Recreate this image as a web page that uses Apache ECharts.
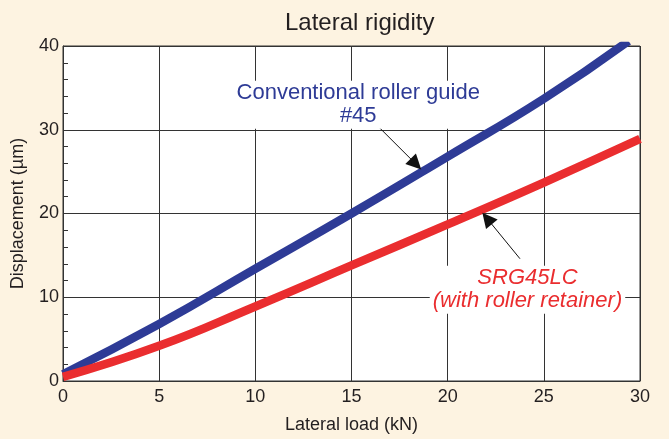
<!DOCTYPE html>
<html>
<head>
<meta charset="utf-8">
<script src="https://cdn.jsdelivr.net/npm/echarts@6/dist/echarts.min.js"></script>
<style>
html,body{margin:0;padding:0;background:#FDF3E1;}
#c{width:669px;height:439px;}
</style>
</head>
<body>
<div id="c"></div>
<script>
// Lateral load (kN) vs displacement (µm)
const conventionalX = [0, 5, 10, 15, 20, 25, 29.4];
const conventionalY = [0.8, 6.8, 13.4, 20.0, 26.8, 33.7, 40.6];
const srgX = [0, 5, 10, 15, 20, 25, 30];
const srgY = [0.5, 4.2, 8.9, 13.8, 18.7, 23.7, 28.9];
const xTicks = [0, 5, 10, 15, 20, 25, 30];
const yTicks = [0, 10, 20, 30, 40];
const titleText = 'Lateral rigidity';
const xName = 'Lateral load (kN)';
const yName = 'Displacement (\u00b5m)';
const convLabel = 'Conventional roller guide\n#45';
const srgLabel = 'SRG45LC\n(with roller retainer)';
const convLabelAt = [15.35, 33.0];
const srgLabelAt = [24.15, 10.9];
const convArrow = [[16.43, 30.3], [18.35, 25.9]];
const srgArrow = [[23.76, 14.6], [22.05, 19.4]];

const FONT = "'Liberation Sans', Arial, Helvetica, sans-serif";
const BLUE = '#2E3B96';
const RED = '#EA2D2F';
const INK = '#231F20';

function pairs(xs, ys){ return xs.map((x,i)=>[x, ys[i]]); }
function arrowLine(a){
  return {
    silent:true, animation:false, symbol:['none','triangle'], symbolSize:15,
    lineStyle:{color:'#111', width:1, type:'solid'}, itemStyle:{color:'#111'},
    label:{show:false}, emphasis:{disabled:true},
    data:[[{coord:a[0]}, {coord:a[1]}]]
  };
}

const chart = echarts.init(document.getElementById('c'), null, {renderer:'canvas'});
chart.setOption({
  animation:false,
  backgroundColor:'#FDF3E1',
  textStyle:{fontFamily:FONT},
  title:{
    text:titleText, left:280, top:6,
    textStyle:{fontSize:24, fontWeight:'normal', color:INK, fontFamily:FONT}
  },
  grid:{left:63, right:29, top:46, bottom:58, show:true, backgroundColor:'#ffffff', borderColor:'#333', borderWidth:1},
  xAxis:{
    type:'value', min:xTicks[0], max:xTicks[xTicks.length-1], interval:5,
    name:xName, nameLocation:'middle', nameGap:35,
    nameTextStyle:{fontSize:18, color:INK, fontFamily:FONT},
    axisLine:{show:true, lineStyle:{color:'#333', width:1}},
    axisTick:{show:false},
    axisLabel:{fontSize:18, color:INK, margin:7, fontFamily:FONT},
    splitLine:{show:true, lineStyle:{color:'#333', width:1}}
  },
  yAxis:[
    {
      type:'value', min:yTicks[0], max:yTicks[yTicks.length-1], interval:10,
      name:yName, nameLocation:'middle', nameGap:36,
      nameTextStyle:{fontSize:18, color:INK, fontFamily:FONT},
      axisLine:{show:true, lineStyle:{color:'#333', width:1}},
      axisTick:{show:false},
      axisLabel:{fontSize:18, color:INK, margin:4, fontFamily:FONT},
      splitLine:{show:true, lineStyle:{color:'#333', width:1}}
    },
    {
      type:'value', min:yTicks[0], max:yTicks[yTicks.length-1], interval:2, position:'left', offset:0,
      axisLine:{show:false},
      axisTick:{show:true, inside:true, length:5, lineStyle:{color:'#333', width:1}},
      axisLabel:{show:false},
      splitLine:{show:false}
    }
  ],
  series:[
    {
      name:'Conventional roller guide #45', type:'line', data:pairs(conventionalX, conventionalY),
      smooth:0.5, symbol:'none', lineStyle:{color:BLUE, width:8.5, cap:'butt'}, itemStyle:{color:BLUE},
      z:3,
      markPoint:{
        silent:true, symbol:'circle', symbolSize:0,
        data:[{coord:convLabelAt}],
        label:{show:true, position:'inside', formatter:convLabel, fontSize:22, lineHeight:23,
               color:BLUE, backgroundColor:'#ffffff', padding:[1,3], fontFamily:FONT}
      },
      markLine:arrowLine(convArrow)
    },
    {
      name:'SRG45LC', type:'line', data:pairs(srgX, srgY),
      smooth:0.5, symbol:'none', lineStyle:{color:RED, width:8.5, cap:'butt'}, itemStyle:{color:RED},
      z:3,
      markPoint:{
        silent:true, symbol:'circle', symbolSize:0,
        data:[{coord:srgLabelAt}],
        label:{show:true, position:'inside', formatter:srgLabel, fontSize:22, lineHeight:23,
               fontStyle:'italic', color:RED, backgroundColor:'#ffffff', padding:[1,3], fontFamily:FONT}
      },
      markLine:arrowLine(srgArrow)
    }
  ]
});
</script>
</body>
</html>
